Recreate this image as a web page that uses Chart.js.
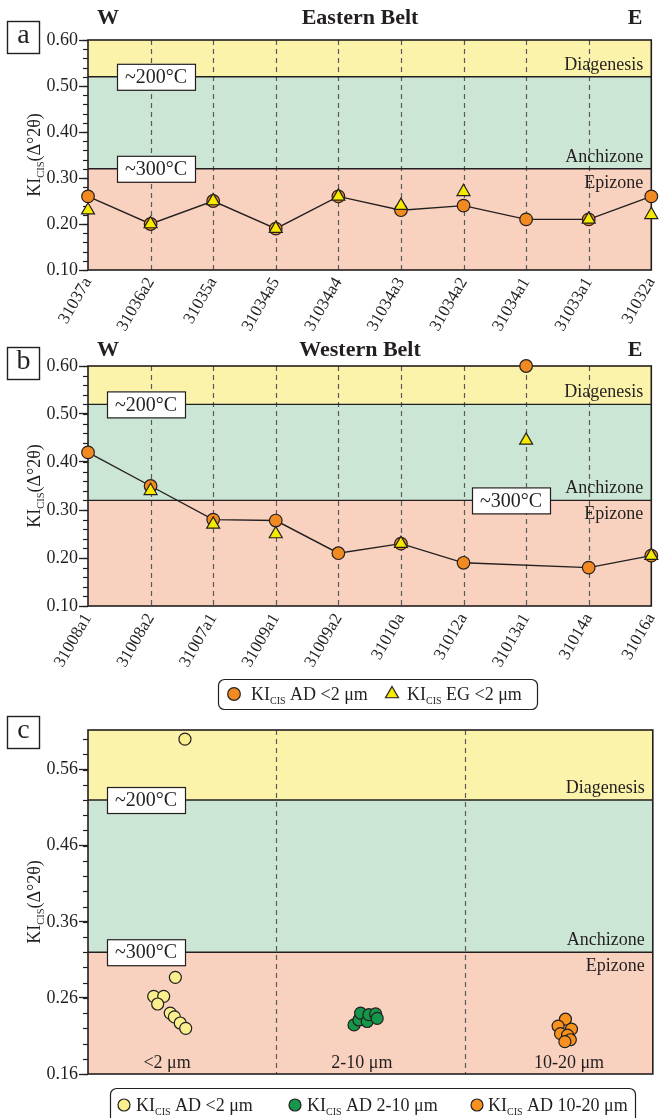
<!DOCTYPE html>
<html>
<head>
<meta charset="utf-8">
<script src="https://cdn.jsdelivr.net/npm/chart.js@4.4.1/dist/chart.umd.min.js"></script>
<style>
  html, body { margin: 0; padding: 0; background: #fff; }
  #page { position: relative; width: 660px; height: 1118px; overflow: hidden; }
  #page canvas { position: absolute; left: 0; }
</style>
</head>
<body>
<div id="page">
  <canvas id="panelA" width="660" height="340" style="top:0"></canvas>
  <canvas id="panelB" width="660" height="375" style="top:340px"></canvas>
  <canvas id="panelC" width="660" height="403" style="top:715px"></canvas>
</div>
<script>
// ---- Data -------------------------------------------------------------
// Eastern Belt (W -> E)
const easternSamples = ['31037a', '31036a2', '31035a', '31034a5', '31034a4', '31034a3', '31034a2', '31034a1', '31033a1', '31032a'];
const easternAD = [0.26, 0.20, 0.25, 0.19, 0.26, 0.23, 0.24, 0.21, 0.21, 0.26];
const easternEG = [0.23, 0.20, 0.25, 0.19, 0.26, 0.24, 0.27, null, 0.21, 0.22];

// Western Belt (W -> E)
const westernSamples = ['31008a1', '31008a2', '31007a1', '31009a1', '31009a2', '31010a', '31012a', '31013a1', '31014a', '31016a'];
const westernAD = [0.42, 0.35, 0.28, 0.278, 0.21, 0.23, 0.19, 0.60, 0.18, 0.205];
const westernEG = [null, 0.34, 0.27, 0.25, null, 0.23, null, 0.445, null, 0.205];
const westernOffTrend = ['31013a1']; // plotted, but not joined by the trend line

// Grain-size fractions (x = position within the fraction column)
const fractionLabels = ['<2 μm', '2-10 μm', '10-20 μm'];
const fineX = [0.464, 0.349, 0.402, 0.370, 0.437, 0.459, 0.490, 0.519, 0.515];
const fineKI = [0.287, 0.262, 0.262, 0.252, 0.240, 0.235, 0.227, 0.220, 0.600];
const midX = [1.413, 1.439, 1.448, 1.483, 1.492, 1.528, 1.536];
const midKI = [0.2245, 0.231, 0.240, 0.229, 0.238, 0.239, 0.233];
const coarseX = [2.536, 2.497, 2.568, 2.510, 2.547, 2.562, 2.533];
const coarseKI = [0.232, 0.223, 0.219, 0.213, 0.211, 0.205, 0.2025];

// Axis ticks and metamorphic zone limits (KI, Δ°2θ)
const kiTicks = [0.10, 0.20, 0.30, 0.40, 0.50, 0.60];
const sizeTicks = [0.16, 0.26, 0.36, 0.46, 0.56];
const diagenesisLimit = 0.52; // ~200 °C
const epizoneLimit = 0.32;    // ~300 °C

// ---- Styling ----------------------------------------------------------
const SERIF = '"Liberation Serif", "Times New Roman", serif';
const INK = '#231f20';
const ZONE_FILL = { diag: '#fcf3aa', anchi: '#cce6d5', epi: '#f8d2bf' };
const ORANGE = '#f28a22';
const YELLOW = '#f6ea00';

function strokeLine(ctx, x1, y1, x2, y2) {
  ctx.beginPath(); ctx.moveTo(x1, y1); ctx.lineTo(x2, y2); ctx.stroke();
}

// "KI" with a "CIS" subscript followed by the rest of the label
function kiWidth(ctx, rest, size, sub) {
  ctx.font = `${size}px ${SERIF}`;
  let w = ctx.measureText('KI').width + ctx.measureText(rest).width;
  ctx.font = `${sub}px ${SERIF}`;
  return w + ctx.measureText('CIS').width;
}
function kiText(ctx, x, y, rest, size, sub) {
  ctx.textAlign = 'left';
  ctx.textBaseline = 'alphabetic';
  ctx.font = `${size}px ${SERIF}`;
  ctx.fillText('KI', x, y);
  x += ctx.measureText('KI').width;
  ctx.font = `${sub}px ${SERIF}`;
  ctx.fillText('CIS', x, y + size * 0.2);
  x += ctx.measureText('CIS').width;
  ctx.font = `${size}px ${SERIF}`;
  ctx.fillText(rest, x, y);
}

function marker(ctx, style, x, y, r, fill) {
  ctx.save();
  ctx.fillStyle = fill; ctx.strokeStyle = INK; ctx.lineWidth = 1.2;
  ctx.beginPath();
  if (style === 'triangle') {
    for (let k = 0; k < 3; k++) {
      const a = k * 2 * Math.PI / 3;
      const px = x + Math.sin(a) * r, py = y - Math.cos(a) * r;
      k ? ctx.lineTo(px, py) : ctx.moveTo(px, py);
    }
    ctx.closePath();
  } else {
    ctx.arc(x, y, r, 0, Math.PI * 2);
  }
  ctx.fill(); ctx.stroke();
  ctx.restore();
}

function roundRect(ctx, x, y, w, h, r) {
  ctx.beginPath();
  ctx.moveTo(x + r, y); ctx.lineTo(x + w - r, y); ctx.arcTo(x + w, y, x + w, y + r, r);
  ctx.lineTo(x + w, y + h - r); ctx.arcTo(x + w, y + h, x + w - r, y + h, r);
  ctx.lineTo(x + r, y + h); ctx.arcTo(x, y + h, x, y + h - r, r);
  ctx.lineTo(x, y + r); ctx.arcTo(x, y, x + r, y, r);
  ctx.closePath();
}

// Zone bands, frame, labels, headings and legend for one panel
function panelDecor(p) {
  return {
    id: 'panelDecor',
    beforeDraw(chart) {
      const { ctx, chartArea: a, scales: { x, y } } = chart;
      const yd = y.getPixelForValue(diagenesisLimit), ye = y.getPixelForValue(epizoneLimit);
      ctx.save();
      ctx.fillStyle = ZONE_FILL.diag; ctx.fillRect(a.left, a.top, a.width, yd - a.top);
      ctx.fillStyle = ZONE_FILL.anchi; ctx.fillRect(a.left, yd, a.width, ye - yd);
      ctx.fillStyle = ZONE_FILL.epi; ctx.fillRect(a.left, ye, a.width, a.bottom - ye);
      // dashed sample / fraction dividers
      ctx.strokeStyle = '#5a5a5a'; ctx.lineWidth = 1.2; ctx.setLineDash([5, 4]);
      p.dividers.forEach(v => {
        const px = Math.round(x.getPixelForValue(v)) + 0.5;
        strokeLine(ctx, px, a.top, px, a.bottom);
      });
      ctx.restore();
    },
    beforeDatasetsDraw(chart) {
      const { ctx, chartArea: a, scales: { x, y } } = chart;
      const yd = y.getPixelForValue(diagenesisLimit), ye = y.getPixelForValue(epizoneLimit);
      ctx.save();
      ctx.strokeStyle = INK; ctx.lineWidth = 1.4;
      strokeLine(ctx, a.left, yd, a.right, yd);
      strokeLine(ctx, a.left, ye, a.right, ye);
      ctx.lineWidth = 1.6;
      ctx.strokeRect(a.left, a.top, a.width, a.height);

      // minor ticks every 0.02
      ctx.lineWidth = 1.2;
      for (let v = y.min; v <= y.max + 1e-9; v += 0.02) {
        const py = Math.round(y.getPixelForValue(v)) + 0.5;
        strokeLine(ctx, a.left - 5, py, a.left, py);
      }

      // zone names
      ctx.fillStyle = INK; ctx.font = `18px ${SERIF}`;
      ctx.textAlign = 'right'; ctx.textBaseline = 'middle';
      ctx.fillText('Diagenesis', a.right - 8, yd - 12);
      ctx.fillText('Anchizone', a.right - 8, ye - 12);
      ctx.fillText('Epizone', a.right - 8, ye + 14);

      // temperature boxes on the zone limits
      p.temps.forEach(t => {
        const cy = y.getPixelForValue(t.value);
        ctx.fillStyle = '#fff'; ctx.fillRect(t.x, cy - 13, 78, 26);
        ctx.lineWidth = 1.2; ctx.strokeStyle = INK; ctx.strokeRect(t.x + 0.5, cy - 13 + 0.5, 78, 26);
        ctx.fillStyle = INK; ctx.font = `20px ${SERIF}`;
        ctx.textAlign = 'center'; ctx.textBaseline = 'middle';
        ctx.fillText(t.text, t.x + 39, cy + 1);
      });

      // fraction names along the bottom
      if (p.fractions) {
        ctx.font = `18px ${SERIF}`; ctx.textAlign = 'center'; ctx.textBaseline = 'middle';
        p.fractions.forEach(f => {
          ctx.fillText(f.text, x.getPixelForValue(f.at), a.bottom - 11);
        });
      }
      ctx.restore();
    },
    afterDraw(chart) {
      const { ctx, chartArea: a } = chart;
      ctx.save();
      ctx.fillStyle = INK; ctx.strokeStyle = INK;

      // panel letter
      ctx.lineWidth = 1.4;
      ctx.fillStyle = '#fff'; ctx.fillRect(7, p.letterY, 32, 32);
      ctx.strokeRect(7.5, p.letterY + 0.5, 32, 32);
      ctx.fillStyle = INK; ctx.font = `28px ${SERIF}`;
      ctx.textAlign = 'center'; ctx.textBaseline = 'middle';
      ctx.fillText(p.letter, 23.5, p.letterY + 15);

      // belt heading
      if (p.heading) {
        ctx.font = `bold 22px ${SERIF}`; ctx.textBaseline = 'middle';
        ctx.fillText('W', 108, p.headingY);
        ctx.fillText(p.heading, 360, p.headingY);
        ctx.fillText('E', 635, p.headingY);
      }

      // y-axis title
      ctx.save();
      const titleW = kiWidth(ctx, '(Δ°2θ)', 18, 10.5);
      ctx.translate(40, (a.top + a.bottom) / 2);
      ctx.rotate(-Math.PI / 2);
      kiText(ctx, -titleW / 2, 0, '(Δ°2θ)', 18, 10.5);
      ctx.restore();

      // legend
      if (p.legend) {
        const L = p.legend;
        ctx.fillStyle = '#fff'; ctx.lineWidth = 1.2;
        roundRect(ctx, L.x + 0.5, L.y + 0.5, L.w, L.h, 6);
        ctx.fill(); ctx.stroke();
        L.items.forEach(it => {
          const ds = chart.data.datasets[it.dataset];
          marker(ctx, ds.pointStyle, it.x, L.cy, it.r, ds.pointBackgroundColor);
          ctx.fillStyle = INK;
          kiText(ctx, it.x + it.gap, L.cy + 6, it.rest, 18, 10);
        });
      }
      ctx.restore();
    }
  };
}

function kiAxis(min, max, ticks) {
  return {
    min, max,
    afterBuildTicks: s => { s.ticks = ticks.map(v => ({ value: v })); },
    afterFit: s => { s.width = 88; s.paddingTop = 0; s.paddingBottom = 0; },
    ticks: { font: { family: SERIF, size: 18 }, color: INK, padding: 1, callback: v => v.toFixed(2) },
    grid: { drawOnChartArea: false, drawTicks: true, tickLength: 9, tickColor: INK, tickWidth: 1.3 },
    border: { display: false }
  };
}

function sampleAxis() {
  return {
    type: 'category',
    offset: false,
    afterFit: s => { s.height = 70; s.paddingLeft = 0; s.paddingRight = 0; },
    ticks: { font: { family: SERIF, size: 17 }, color: INK, minRotation: 60, maxRotation: 60, padding: 4, autoSkip: false },
    grid: { display: false, drawTicks: false },
    border: { display: false }
  };
}

const common = {
  responsive: false,
  devicePixelRatio: 1,
  animation: false,
  events: [],
  plugins: { legend: { display: false }, tooltip: { enabled: false } }
};

function beltDatasets(samples, ad, eg, offTrend) {
  const trend = ad.map((v, i) => offTrend.includes(samples[i]) ? null : v);
  return [
    { label: 'KI EG <2 μm', data: eg, showLine: false, pointStyle: 'triangle', pointRadius: 7.5,
      pointBackgroundColor: YELLOW, pointBorderColor: INK, pointBorderWidth: 1.2, order: 0, clip: false },
    { label: 'KI AD <2 μm', data: ad, showLine: false, pointStyle: 'circle', pointRadius: 6.3,
      pointBackgroundColor: ORANGE, pointBorderColor: INK, pointBorderWidth: 1.2, order: 1, clip: false },
    { label: 'trend', data: trend, spanGaps: true, pointRadius: 0, borderColor: INK, borderWidth: 1.4,
      fill: false, tension: 0, order: 2, clip: false }
  ];
}

// ---- Panel a: Eastern Belt ---------------------------------------------
new Chart(document.getElementById('panelA'), {
  type: 'line',
  data: { labels: easternSamples, datasets: beltDatasets(easternSamples, easternAD, easternEG, []) },
  options: Object.assign({}, common, {
    layout: { padding: { top: 40, right: 5, left: 0, bottom: 0 } },
    scales: { x: sampleAxis(), y: kiAxis(0.10, 0.60, kiTicks) }
  }),
  plugins: [panelDecor({
    letter: 'a', letterY: 21, heading: 'Eastern Belt', headingY: 18,
    dividers: [1, 2, 3, 4, 5, 6, 7, 8],
    temps: [{ text: '~200°C', value: diagenesisLimit, x: 117 }, { text: '~300°C', value: epizoneLimit, x: 117 }]
  })]
});

// ---- Panel b: Western Belt ---------------------------------------------
new Chart(document.getElementById('panelB'), {
  type: 'line',
  data: { labels: westernSamples, datasets: beltDatasets(westernSamples, westernAD, westernEG, westernOffTrend) },
  options: Object.assign({}, common, {
    layout: { padding: { top: 26, right: 5, left: 0, bottom: 39 } },
    scales: { x: sampleAxis(), y: kiAxis(0.10, 0.60, kiTicks) }
  }),
  plugins: [panelDecor({
    letter: 'b', letterY: 7, heading: 'Western Belt', headingY: 10,
    dividers: [1, 2, 3, 4, 5, 6, 7, 8],
    temps: [{ text: '~200°C', value: diagenesisLimit, x: 107 }, { text: '~300°C', value: epizoneLimit, x: 472 }],
    legend: {
      x: 218, y: 339, w: 319, h: 30, cy: 354,
      items: [
        { dataset: 1, x: 234, r: 6.3, gap: 17, rest: ' AD <2 μm' },
        { dataset: 0, x: 392, r: 7.5, gap: 15, rest: ' EG <2 μm' }
      ]
    }
  })]
});

// ---- Panel c: KI by grain-size fraction --------------------------------
const toPoints = (xs, ys) => xs.map((x, i) => ({ x, y: ys[i] }));
new Chart(document.getElementById('panelC'), {
  type: 'scatter',
  data: {
    datasets: [
      { label: 'KI AD <2 μm', data: toPoints(fineX, fineKI), pointStyle: 'circle', pointRadius: 6,
        pointBackgroundColor: '#faef8c', pointBorderColor: INK, pointBorderWidth: 1.2, clip: false },
      { label: 'KI AD 2-10 μm', data: toPoints(midX, midKI), pointStyle: 'circle', pointRadius: 6,
        pointBackgroundColor: '#16964a', pointBorderColor: INK, pointBorderWidth: 1.2, clip: false },
      { label: 'KI AD 10-20 μm', data: toPoints(coarseX, coarseKI), pointStyle: 'circle', pointRadius: 6,
        pointBackgroundColor: '#f7921e', pointBorderColor: INK, pointBorderWidth: 1.2, clip: false }
    ]
  },
  options: Object.assign({}, common, {
    layout: { padding: { top: 15, right: 5, left: 0, bottom: 44 } },
    scales: {
      x: { type: 'linear', min: 0, max: fractionLabels.length, display: false },
      y: kiAxis(0.16, 0.612, sizeTicks)
    }
  }),
  plugins: [panelDecor({
    letter: 'c', letterY: 1,
    dividers: [1, 2],
    fractions: fractionLabels.map((t, i) => ({ text: t, at: [0.42, 1.455, 2.555][i] })),
    temps: [{ text: '~200°C', value: diagenesisLimit, x: 107 }, { text: '~300°C', value: epizoneLimit, x: 107 }],
    legend: {
      x: 110, y: 373, w: 525, h: 45, cy: 390,
      items: [
        { dataset: 0, x: 124, r: 6, gap: 12, rest: ' AD <2 μm' },
        { dataset: 1, x: 295, r: 6, gap: 12, rest: ' AD 2-10 μm' },
        { dataset: 2, x: 477, r: 6, gap: 11, rest: ' AD 10-20 μm' }
      ]
    }
  })]
});
</script>
</body>
</html>
